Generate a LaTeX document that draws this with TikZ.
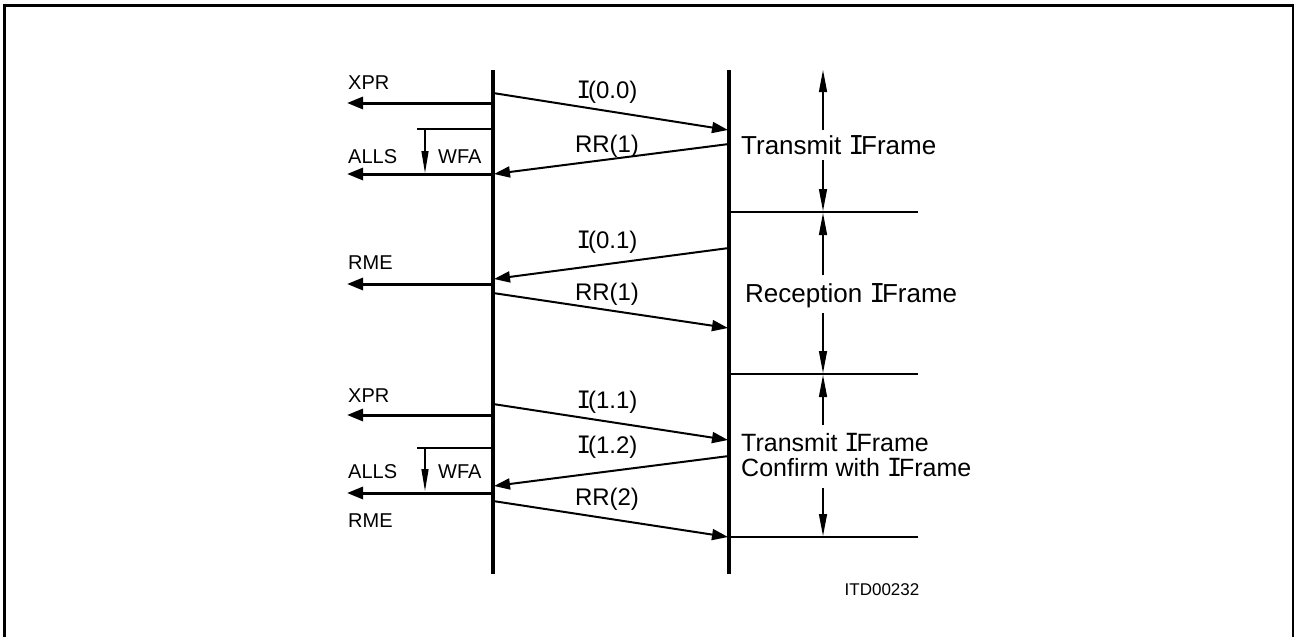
\documentclass[tikz,border=0pt]{standalone}
\usepackage{fontspec}
\setmainfont{Liberation Sans}
\newfontfamily\serifIfont{DejaVu Sans Mono}
\newcommand{\sI}{{\serifIfont I}\kern-0.12em}
\usetikzlibrary{arrows.meta}
\begin{document}
\begin{tikzpicture}[x=1pt,y=-1pt,
  life/.style={line width=4pt},
  sig/.style={line width=2pt,-{Triangle[length=16pt,width=11pt]}},
  outarr/.style={line width=3pt,-{Triangle[length=16pt,width=12pt]}},
  thinline/.style={line width=1.3pt},
  wfaarr/.style={line width=1.3pt,-{Triangle[length=22pt,width=7pt]}},
  dimarr/.style={line width=1.3pt,-{Triangle[length=22pt,width=8pt]}},
  lab/.style={font=\fontsize{20}{22}\selectfont,inner sep=0pt,anchor=base west},
  msg/.style={font=\fontsize{24}{26}\selectfont,inner sep=0pt,anchor=base},
  phase/.style={font=\fontsize{26}{28}\selectfont,inner sep=0pt,anchor=base west},
  phasesm/.style={font=\fontsize{25}{27}\selectfont,inner sep=0pt,anchor=base west},
]
\useasboundingbox (0,0) rectangle (1294,637);
% frame
\draw[line width=2.5pt] (1293.5,660) -- (1293.5,5.3) -- (4.5,5.3) -- (4.5,660);

% lifelines
\coordinate (Ltop) at (493,70);  \coordinate (Lbot) at (493,574);
\coordinate (Rtop) at (729,70);  \coordinate (Rbot) at (729,574);
\draw[life] (Ltop) -- (Lbot);
\draw[life] (Rtop) -- (Rbot);

% ---- section 1
\coordinate (xpr1s) at (493,103); \coordinate (xpr1e) at (347,103);
\draw[outarr] (xpr1s) -- (xpr1e);
\node[lab] (xpr1) at (348,89) {XPR};
\coordinate (i00s) at (493,93); \coordinate (i00e) at (728,130);
\draw[sig] (i00s) -- (i00e);
\node[msg] (i00) at (607,98) {\sI(0.0)};
\coordinate (rr1s) at (729,144); \coordinate (rr1e) at (494,174);
\draw[sig] (rr1s) -- (rr1e);
\node[msg] (rr1) at (607,152) {RR(1)};
\coordinate (wfa1a) at (417,129); \coordinate (wfa1b) at (493,129);
\draw[thinline] (wfa1a) -- (wfa1b);
\coordinate (wfa1s) at (425,129); \coordinate (wfa1e) at (425,173);
\draw[wfaarr] (wfa1s) -- (wfa1e);
\node[lab] (wfa1) at (438,163) {WFA};
\coordinate (alls1s) at (493,174); \coordinate (alls1e) at (347,174);
\draw[outarr] (alls1s) -- (alls1e);
\node[lab] (alls1) at (348,163) {ALLS};

% ---- section 2
\coordinate (i01s) at (729,248); \coordinate (i01e) at (494,279);
\draw[sig] (i01s) -- (i01e);
\node[msg] (i01) at (607,248) {\sI(0.1)};
\coordinate (rme1s) at (493,284); \coordinate (rme1e) at (347,284);
\draw[outarr] (rme1s) -- (rme1e);
\node[lab] (rme1) at (348,269) {RME};
\coordinate (rr1bs) at (493,293); \coordinate (rr1be) at (728,328);
\draw[sig] (rr1bs) -- (rr1be);
\node[msg] (rr1b) at (607,300) {RR(1)};

% ---- section 3
\coordinate (xpr2s) at (493,415); \coordinate (xpr2e) at (347,415);
\draw[outarr] (xpr2s) -- (xpr2e);
\node[lab] (xpr2) at (348,402) {XPR};
\coordinate (i11s) at (493,404); \coordinate (i11e) at (728,440);
\draw[sig] (i11s) -- (i11e);
\node[msg] (i11) at (607,408) {\sI(1.1)};
\coordinate (i12s) at (729,456); \coordinate (i12e) at (494,486);
\draw[sig] (i12s) -- (i12e);
\node[msg] (i12) at (607,453) {\sI(1.2)};
\coordinate (wfa2a) at (417,448); \coordinate (wfa2b) at (493,448);
\draw[thinline] (wfa2a) -- (wfa2b);
\coordinate (wfa2s) at (425,448); \coordinate (wfa2e) at (425,491);
\draw[wfaarr] (wfa2s) -- (wfa2e);
\node[lab] (wfa2) at (438,478) {WFA};
\coordinate (alls2s) at (493,493); \coordinate (alls2e) at (347,493);
\draw[outarr] (alls2s) -- (alls2e);
\node[lab] (alls2) at (348,478) {ALLS};
\node[lab] (rme2) at (348,527) {RME};
\coordinate (rr2s) at (493,501); \coordinate (rr2e) at (728,537);
\draw[sig] (rr2s) -- (rr2e);
\node[msg] (rr2) at (607,505) {RR(2)};

% ---- right side phases
\coordinate (h1a) at (731,212); \coordinate (h1b) at (918,212);
\coordinate (h2a) at (731,374); \coordinate (h2b) at (918,374);
\coordinate (h3a) at (731,537); \coordinate (h3b) at (918,537);
\draw[thinline] (h1a) -- (h1b);
\draw[thinline] (h2a) -- (h2b);
\draw[thinline] (h3a) -- (h3b);

\node[phase] (ph1) at (741,154) {Transmit \sI Frame};
\coordinate (d1u) at (823,130); \coordinate (d1ut) at (823,70);
\coordinate (d1d) at (823,160); \coordinate (d1dt) at (823,211);
\draw[dimarr] (d1u) -- (d1ut);
\draw[dimarr] (d1d) -- (d1dt);

\node[phase] (ph2) at (745,302) {Reception \sI Frame};
\coordinate (d2u) at (823,275); \coordinate (d2ut) at (823,213);
\coordinate (d2d) at (823,313); \coordinate (d2dt) at (823,373);
\draw[dimarr] (d2u) -- (d2ut);
\draw[dimarr] (d2d) -- (d2dt);

\node[phasesm] (ph3a) at (741,451) {Transmit \sI Frame};
\node[phasesm] (ph3b) at (741,476) {Confirm with \sI Frame};
\coordinate (d3u) at (823,425); \coordinate (d3ut) at (823,375);
\coordinate (d3d) at (823,488); \coordinate (d3dt) at (823,536);
\draw[dimarr] (d3u) -- (d3ut);
\draw[dimarr] (d3d) -- (d3dt);

\node[font=\fontsize{17}{19}\selectfont,inner sep=0pt] (itd) at (882,590) {ITD00232};
\end{tikzpicture}
\end{document}
